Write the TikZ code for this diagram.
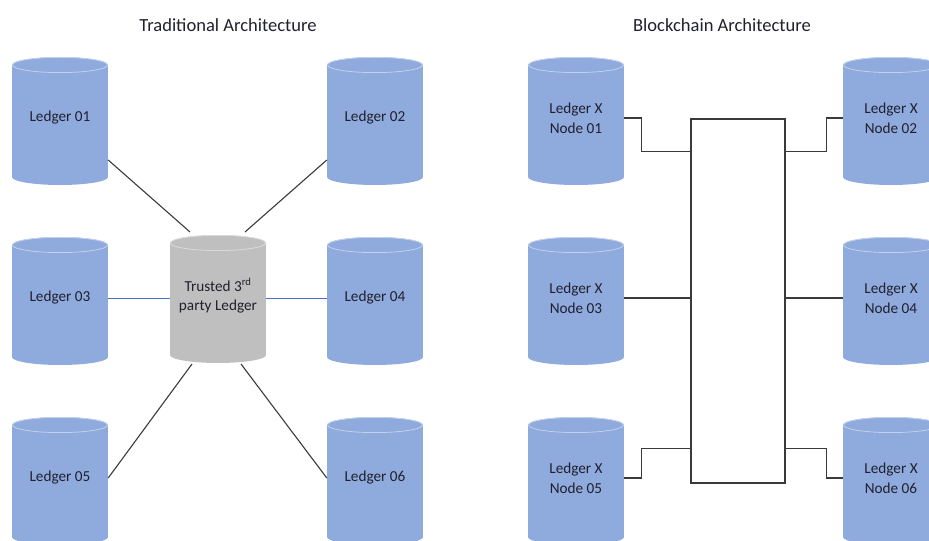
\documentclass[tikz,border=0pt]{standalone}
\usepackage{fontspec}
\setmainfont{Carlito}
\definecolor{cylblue}{HTML}{8FAADC}
\definecolor{cylrimblue}{HTML}{C3D1EC}
\definecolor{cylgray}{HTML}{BFBFBF}
\definecolor{cylrimgray}{HTML}{DADADA}
\definecolor{linkdark}{HTML}{3A3A3A}
\definecolor{linkblue}{HTML}{4472C4}
\definecolor{txtc}{HTML}{20202E}
\tikzset{
  lbl/.style={font=\fontsize{15.3}{20}\selectfont, text=txtc, align=center,
    minimum width=96bp, minimum height=110bp, inner sep=0pt},
  titlelbl/.style={font=\fontsize{18.6}{22}\selectfont, text=txtc, inner sep=0pt},
  link/.style={draw=linkdark, line width=1.1bp},
  bluelink/.style={draw=linkblue, line width=0.9bp},
  hub/.style={draw=linkdark, line width=1.1bp, fill=white,
    minimum width=94bp, minimum height=364bp, inner sep=0pt},
}
\newcommand\cylnode[6]{%
  \fill[#4] ({#2-48},{#3-53}) rectangle ({#2+48},{#3+59});
  \fill[#4] (#2,{#3+59}) ellipse [x radius=48, y radius=8];
  \fill[#4] (#2,{#3-53}) ellipse [x radius=48, y radius=8];
  \draw[#5, line width=0.8bp] (#2,{#3-53}) ellipse [x radius=47.5, y radius=7.6];
  \node[lbl] (#1) at (#2,#3) {#6};
}
\begin{document}
\begin{tikzpicture}[x=1bp,y=-1bp]
\useasboundingbox (0,0) rectangle (929,541);
\clip (0,0) rectangle (929,541);
% titles
\node[titlelbl] (t1) at (228,25) {Traditional Architecture};
\node[titlelbl] (t2) at (722,25) {Blockchain Architecture};
% traditional
\cylnode{L1}{60}{118}{cylblue}{cylrimblue}{Ledger 01}
\cylnode{L2}{375}{118}{cylblue}{cylrimblue}{Ledger 02}
\cylnode{L3}{60}{298}{cylblue}{cylrimblue}{Ledger 03}
\cylnode{L4}{375}{298}{cylblue}{cylrimblue}{Ledger 04}
\cylnode{L5}{60}{478}{cylblue}{cylrimblue}{Ledger 05}
\cylnode{L6}{375}{478}{cylblue}{cylrimblue}{Ledger 06}
\cylnode{C}{218}{296}{cylgray}{cylrimgray}{Trusted 3\textsuperscript{rd}\\party Ledger}
\draw[link] ([yshift=-42bp]L1.east) -- ([xshift=-28bp,yshift=64bp]C.center);
\draw[link] ([yshift=-42bp]L2.west) -- ([xshift=27bp,yshift=64bp]C.center);
\draw[link] (L5.east) -- ([xshift=-26bp,yshift=-68bp]C.center);
\draw[link] (L6.west) -- ([xshift=23bp,yshift=-68bp]C.center);
\draw[bluelink] (L3.east) -- (L3.east -| C.west);
\draw[bluelink] (L4.west) -- (L4.west -| C.east);
% blockchain
\cylnode{R1}{576}{118}{cylblue}{cylrimblue}{Ledger X\\Node 01}
\cylnode{R2}{891}{118}{cylblue}{cylrimblue}{Ledger X\\Node 02}
\cylnode{R3}{576}{298}{cylblue}{cylrimblue}{Ledger X\\Node 03}
\cylnode{R4}{891}{298}{cylblue}{cylrimblue}{Ledger X\\Node 04}
\cylnode{R5}{576}{478}{cylblue}{cylrimblue}{Ledger X\\Node 05}
\cylnode{R6}{891}{478}{cylblue}{cylrimblue}{Ledger X\\Node 06}
\node[hub] (B) at (738,301) {};
\draw[link] (R1.east) -- ++(17,0) |- ([yshift=-33bp]B.north west);
\draw[link] (R2.west) -- ++(-16,0) |- ([yshift=-33bp]B.north east);
\draw[link] (R3.east) -- (R3.east -| B.west);
\draw[link] (R4.west) -- (R4.west -| B.east);
\draw[link] (R5.east) -- ++(17,0) |- ([yshift=35bp]B.south west);
\draw[link] (R6.west) -- ++(-16,0) |- ([yshift=35bp]B.south east);
\end{tikzpicture}
\end{document}
